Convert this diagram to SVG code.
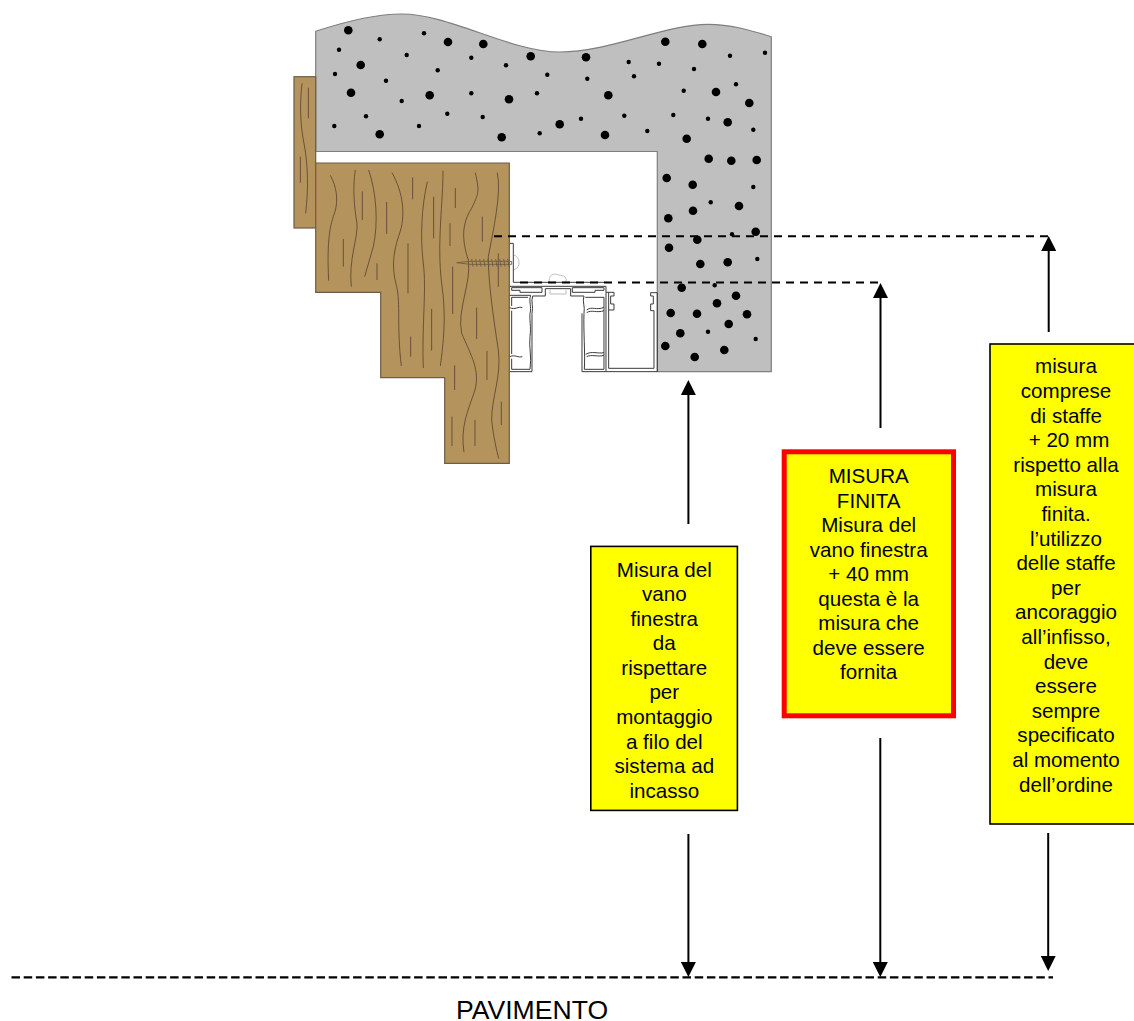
<svg xmlns="http://www.w3.org/2000/svg" width="1134" height="1021" viewBox="0 0 1134 1021">
<style>
.conc{fill:#bfbfbf;stroke:#7f7f7f;stroke-width:1.2}
.wood{fill:#b5935c;stroke:#6d5d48;stroke-width:1.2}
.grain{fill:none;stroke:#4a3b2a;stroke-width:2.2}
.b{fill:#000}
.prof{fill:none;stroke:#3a3a3a;stroke-width:3}
.blob{fill:none;stroke:#bdbdbd;stroke-width:3}
.dash1{fill:none;stroke:#000;stroke-width:2;stroke-dasharray:8 6}
.dash2{fill:none;stroke:#000;stroke-width:2.3;stroke-dasharray:8.5 3.7}
.arr{fill:none;stroke:#000;stroke-width:2;marker-end:url(#ah)}
.box{fill:#ff0;stroke:#000;stroke-width:1.6}
.boxr{fill:#ff0;stroke:#f00;stroke-width:5}
text{font-family:"Liberation Sans",Arial,sans-serif;fill:#000;text-anchor:middle}
.t{font-size:20.6px}
</style>
<defs>
<marker id="ah" viewBox="0 0 15 15" refX="0" refY="7.5" markerUnits="userSpaceOnUse" markerWidth="15" markerHeight="15" orient="auto"><path d="M0,0 L15,7.5 L0,15Z" fill="#000"/></marker>
</defs>
<rect width="1134" height="1021" fill="#fff"/>
<g id="concrete">
<path class="conc" d="M315.7,31.3 C350,20 378,14 401.7,14 C450,14 510,52 560,52 C610,52 665,24.3 708.3,24.3 C730,24.3 750,30 771.3,36.7 V371.7 H657.3 V151.5 H315.7 Z"/>
<g class="b">
<circle cx="348.3" cy="30.3" r="4.3"/><circle cx="448" cy="42" r="4.3"/><circle cx="483.3" cy="44" r="4.3"/><circle cx="530.7" cy="56.3" r="4.3"/><circle cx="586" cy="57.3" r="4.3"/><circle cx="665.3" cy="41.7" r="4.3"/><circle cx="702.3" cy="44" r="4.3"/><circle cx="360.7" cy="65" r="4.3"/><circle cx="351" cy="92.7" r="4.3"/><circle cx="429.7" cy="95.3" r="4.3"/><circle cx="509" cy="99.3" r="4.3"/><circle cx="608.3" cy="95.3" r="4.3"/><circle cx="716" cy="92" r="4.3"/><circle cx="749.3" cy="103" r="4.3"/><circle cx="559.7" cy="124.3" r="4.3"/><circle cx="727.7" cy="122.3" r="4.3"/><circle cx="379.7" cy="134.3" r="4.3"/><circle cx="501.7" cy="137.3" r="4.3"/><circle cx="605" cy="135" r="4.3"/><circle cx="686.7" cy="138.7" r="4.3"/><circle cx="708.7" cy="158.7" r="4.3"/><circle cx="731.3" cy="160.7" r="4.3"/><circle cx="756.7" cy="160" r="4.3"/><circle cx="666.7" cy="178" r="4.3"/><circle cx="692.7" cy="184.7" r="4.3"/><circle cx="693" cy="210.7" r="4.3"/><circle cx="739" cy="206" r="4.3"/><circle cx="668.3" cy="218.3" r="4.3"/><circle cx="755.7" cy="231.7" r="4.3"/><circle cx="697.3" cy="239.7" r="4.3"/><circle cx="669" cy="247.7" r="4.3"/><circle cx="700.3" cy="264" r="4.3"/><circle cx="727.7" cy="262.3" r="4.3"/><circle cx="681.7" cy="287.7" r="4.3"/><circle cx="736" cy="295.7" r="4.3"/><circle cx="717" cy="303.3" r="4.3"/><circle cx="670.7" cy="313" r="4.3"/><circle cx="697" cy="313.7" r="4.3"/><circle cx="747" cy="314.3" r="4.3"/><circle cx="728.7" cy="324" r="4.3"/><circle cx="680.3" cy="333.3" r="4.3"/><circle cx="665.3" cy="346" r="4.3"/><circle cx="724.3" cy="350" r="4.3"/><circle cx="694.7" cy="357" r="4.3"/>
<circle cx="339" cy="49.7" r="2.2"/><circle cx="379.7" cy="39.3" r="2.2"/><circle cx="424" cy="33.3" r="2.2"/><circle cx="406.7" cy="55" r="2.2"/><circle cx="471.3" cy="57.7" r="2.2"/><circle cx="506" cy="65.3" r="2.2"/><circle cx="437.7" cy="70.3" r="2.2"/><circle cx="335" cy="74" r="2.2"/><circle cx="386" cy="80.7" r="2.2"/><circle cx="547.3" cy="74.7" r="2.2"/><circle cx="587.3" cy="78.7" r="2.2"/><circle cx="628.7" cy="62" r="2.2"/><circle cx="659" cy="63.7" r="2.2"/><circle cx="694" cy="69" r="2.2"/><circle cx="634" cy="76.3" r="2.2"/><circle cx="730" cy="55.7" r="2.2"/><circle cx="765" cy="52.7" r="2.2"/><circle cx="736" cy="84.3" r="2.2"/><circle cx="683.7" cy="90.7" r="2.2"/><circle cx="471.3" cy="93.3" r="2.2"/><circle cx="537" cy="93.3" r="2.2"/><circle cx="401.7" cy="101" r="2.2"/><circle cx="366" cy="116.3" r="2.2"/><circle cx="447.3" cy="113.7" r="2.2"/><circle cx="482.7" cy="117" r="2.2"/><circle cx="334.3" cy="126" r="2.2"/><circle cx="419" cy="126" r="2.2"/><circle cx="539.7" cy="133.3" r="2.2"/><circle cx="581" cy="118.7" r="2.2"/><circle cx="624.3" cy="115.7" r="2.2"/><circle cx="673.3" cy="115" r="2.2"/><circle cx="708" cy="118.7" r="2.2"/><circle cx="647.3" cy="131" r="2.2"/><circle cx="753.3" cy="129.7" r="2.2"/><circle cx="753.3" cy="187" r="2.2"/><circle cx="710.7" cy="202.3" r="2.2"/><circle cx="732" cy="234.3" r="2.2"/><circle cx="757.3" cy="259" r="2.2"/><circle cx="714.7" cy="285.3" r="2.2"/><circle cx="708" cy="331.7" r="2.2"/><circle cx="755.7" cy="339" r="2.2"/>
</g>
</g>
<g id="wood-small">
<rect class="wood" x="294" y="76.7" width="21.7" height="151.3"/>
<g transform="translate(280,0) scale(.3333)"><path class="grain" d="M66,250 C58,320 62,380 72,430 C85,500 85,570 77,640 M85,263 V355 M61,470 V548"/></g>
</g>
<g id="wood-large">
<path class="wood" d="M315.7,163 H509.3 V463.3 H444.7 V377.7 H380.7 V292.3 H315.7 Z"/>
<g transform="translate(280,150) scale(.3333)"><path class="grain" d="M151,76 C170,110 175,150 165,185 C150,225 140,270 146,392 M226,60 C218,110 222,170 231,220 C235,260 205,330 214,410 M266,60 C290,130 295,220 280,290 L254,380 M336,68 C370,130 375,190 362,240 C345,290 330,340 350,410 C362,460 350,530 364,648 M442,95 C425,170 420,260 430,340 C440,420 425,530 430,654 M489,62 C490,150 470,280 485,400 C500,500 490,580 481,648 M586,68 C600,130 595,130 575,175 C545,220 545,270 565,330 C575,400 530,480 545,550 C575,620 600,660 585,720 C565,780 540,830 552,907 M652,68 C665,130 640,240 625,320 C625,400 640,500 655,600 C665,680 635,740 635,810 C640,860 650,900 656,926 M398,82 V148 M247,124 V210 M320,156 V252 M461,140 V265 M526,114 V174 M510,220 V288 M607,200 V275 M190,267 V350 M291,340 V390 M384,280 V430 M655,310 V410 M518,350 V492 M455,477 V602 M392,560 V620 M590,473 V567 M621,603 V690 M524,646 V720 M516,800 V888 M585,810 V888 M664,755 V825"/></g>
</g>
<g id="screw" transform="translate(440,220) scale(.3333)">
<path fill="none" stroke="#6a5a48" stroke-width="2.6" d="M50,128 L90,124 H215 V133 H90 Z M95,117 L99,140 M107,117 L111,140 M119,117 L123,140 M131,117 L135,140 M143,117 L147,140 M155,117 L159,140 M167,117 L171,140 M179,117 L183,140 M191,117 L195,140 M203,117 L207,140"/>
</g>
<g id="profile" transform="translate(440,220) scale(.3333)">
<path class="blob" d="M221,105 C240,110 245,140 222,150 M328,187 C325,170 335,160 350,163 C365,168 382,165 378,187 M330,210 V222 H378 V210"/>
<path class="prof" d="M209,70 H220 V187 H500"/>
<path class="prof" d="M209,199 H498 V217 M215,203 H306 V217 H240 V211 H215 Z M316,228 V206 H392 V228 M397,203 H492 V211 H465 V217 H397 Z M278,228 H316 M392,228 H432"/>
<path class="prof" d="M209,226 H272 C265,245 276,260 270,280 C268,300 274,320 270,350 C266,380 276,410 270,448 H215 V416 M215,402 V272 M215,258 V232 H264 M278,228 C272,245 281,260 276,280 V455 H209 M209,263 C225,271 235,258 247,263 M209,410 C225,403 235,414 247,410"/>
<path class="prof" d="M426,455 H498 V217 M426,280 V455 M432,228 C426,245 436,260 432,280 C430,330 436,400 433,448 H492 V232 H436 M440,270 C455,258 470,272 492,262 M440,278 C455,268 470,280 492,272 M437,403 C455,392 475,402 492,398 M440,410 C455,402 475,412 492,406"/>
<path class="prof" d="M506,217 V445 H642 V272 H632 V252 H640 V228 H632 V218 H652 V455 H498 M498,217 H522 V228 H512 V252 H522 V270 H506"/>
</g>
<g id="connectors">
<path class="dash1" d="M494,236.3 H1048"/>
<path class="dash1" d="M520,282.5 H880"/>
<path class="dash2" d="M11.5,977.3 H1053"/>
<path class="arr" d="M688.4,524 V395"/>
<path class="arr" d="M688.4,834 V962"/>
<path class="arr" d="M880.5,428 V298"/>
<path class="arr" d="M880.3,738 V962"/>
<path class="arr" d="M1048.7,332 V251"/>
<path class="arr" d="M1048.2,833 V956"/>
</g>
<g id="box-vano">
<rect class="box" x="590.8" y="546.4" width="146.6" height="264"/>
<text class="t"><tspan x="664.3" y="576.7">Misura del</tspan><tspan x="664.3" y="601.2">vano</tspan><tspan x="664.3" y="625.8">finestra</tspan><tspan x="664.3" y="650.3">da</tspan><tspan x="664.3" y="674.9">rispettare</tspan><tspan x="664.3" y="699.4">per</tspan><tspan x="664.3" y="724">montaggio</tspan><tspan x="664.3" y="748.6">a filo del</tspan><tspan x="664.3" y="773.1">sistema ad</tspan><tspan x="664.3" y="797.7">incasso</tspan></text>
</g>
<g id="box-finita">
<rect class="boxr" x="784.2" y="451.8" width="169.3" height="264"/>
<text class="t"><tspan x="868.7" y="483.3">MISURA</tspan><tspan x="868.7" y="507.8">FINITA</tspan><tspan x="868.7" y="532.3">Misura del</tspan><tspan x="868.7" y="556.8">vano finestra</tspan><tspan x="868.7" y="581.3">+ 40 mm</tspan><tspan x="868.7" y="605.8">questa è la</tspan><tspan x="868.7" y="630.3">misura che</tspan><tspan x="868.7" y="654.8">deve essere</tspan><tspan x="868.7" y="679.3">fornita</tspan></text>
</g>
<g id="box-staffe">
<rect class="box" x="990" y="344" width="150" height="480"/>
<text class="t"><tspan x="1066" y="373.3">misura</tspan><tspan x="1066" y="397.9">comprese</tspan><tspan x="1066" y="422.5">di staffe</tspan><tspan x="1069" y="447.1">+ 20 mm</tspan><tspan x="1066" y="471.7">rispetto alla</tspan><tspan x="1066" y="496.3">misura</tspan><tspan x="1066" y="520.9">finita.</tspan><tspan x="1066" y="545.5">l’utilizzo</tspan><tspan x="1066" y="570.1">delle staffe</tspan><tspan x="1066" y="594.7">per</tspan><tspan x="1066" y="619.3">ancoraggio</tspan><tspan x="1066" y="643.9">all’infisso,</tspan><tspan x="1066" y="668.5">deve</tspan><tspan x="1066" y="693.1">essere</tspan><tspan x="1066" y="717.7">sempre</tspan><tspan x="1066" y="742.3">specificato</tspan><tspan x="1066" y="766.9">al momento</tspan><tspan x="1066" y="791.5">dell’ordine</tspan></text>
</g>
<g id="label-pavimento">
<text x="532" y="1018.5" font-size="26.6">PAVIMENTO</text>
</g>
</svg>
